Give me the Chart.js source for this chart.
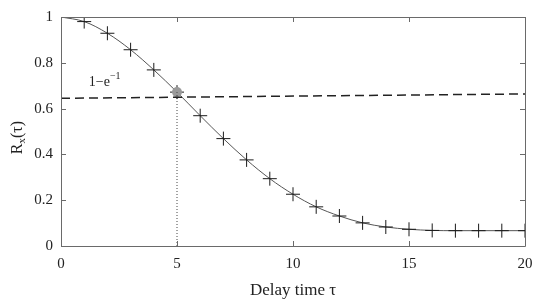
<!DOCTYPE html>
<html>
<head>
<meta charset="utf-8">
<script src="https://cdn.jsdelivr.net/npm/chart.js@4.4.1/dist/chart.umd.min.js"></script>
<style>
  html, body { margin: 0; padding: 0; background: #fff; }
  #wrap { width: 550px; height: 301px; position: relative; }
</style>
</head>
<body>
<div id="wrap"><canvas id="chart"></canvas></div>
<script>
// delay time tau and autocorrelation values
const tau = [0, 1, 2, 3, 4, 5, 6, 7, 8, 9, 10, 11, 12, 13, 14, 15, 16, 17, 18, 19, 20];
const rx = [1.0, 0.98, 0.929, 0.857, 0.769, 0.672, 0.569, 0.469, 0.376, 0.294, 0.226,
            0.171, 0.131, 0.101, 0.083, 0.073, 0.068, 0.067, 0.067, 0.067, 0.067];
const thresholdX = [0, 20];
const thresholdY = [0.645, 0.664];
const markX = [5];
const markY = [0.672];
const xTicks = [0, 5, 10, 15, 20];
const yTicks = [0, 0.2, 0.4, 0.6, 0.8, 1];

const SERIF = '"Liberation Serif", "DejaVu Serif", serif';
const AXIS = '#6a6a6a';

const frame = {
    id: 'frame',
    afterDraw(chart) {
        const { ctx, chartArea: a, scales: { x, y } } = chart;
        ctx.save();
        ctx.strokeStyle = AXIS;
        ctx.lineWidth = 1;
        ctx.beginPath();
        ctx.rect(a.left + 0.5, a.top + 0.5, a.right - a.left, a.bottom - a.top);
        // inward ticks on all four sides
        xTicks.forEach(v => {
            const px = Math.round(x.getPixelForValue(v)) + 0.5;
            ctx.moveTo(px, a.bottom); ctx.lineTo(px, a.bottom - 5);
            ctx.moveTo(px, a.top); ctx.lineTo(px, a.top + 5);
        });
        yTicks.forEach(v => {
            const py = Math.round(y.getPixelForValue(v)) + 0.5;
            ctx.moveTo(a.left, py); ctx.lineTo(a.left + 5, py);
            ctx.moveTo(a.right, py); ctx.lineTo(a.right - 5, py);
        });
        ctx.stroke();

        // 1-e^-1 label
        ctx.fillStyle = '#222';
        ctx.font = '14px ' + SERIF;
        ctx.textBaseline = 'alphabetic';
        const lx = x.getPixelForValue(1.2), ly = y.getPixelForValue(0.7);
        ctx.fillText('1\u2212e', lx, ly);
        const w = ctx.measureText('1\u2212e').width;
        ctx.font = '10px ' + SERIF;
        ctx.fillText('\u22121', lx + w, ly - 7);

        // y axis title R_x(tau)
        ctx.translate(18, (a.top + a.bottom) / 2 + 6);
        ctx.rotate(-Math.PI / 2);
        ctx.textAlign = 'left';
        ctx.textBaseline = 'middle';
        const parts = [['R', 16, 0], ['x', 11, 4], ['(\u03c4)', 16, 0]];
        let total = 0;
        parts.forEach(p => { ctx.font = p[1] + 'px ' + SERIF; total += ctx.measureText(p[0]).width; });
        let cx = -total / 2;
        parts.forEach(p => {
            ctx.font = p[1] + 'px ' + SERIF;
            ctx.fillText(p[0], cx, p[2]);
            cx += ctx.measureText(p[0]).width;
        });
        ctx.restore();
    }
};

new Chart(document.getElementById('chart'), {
    type: 'scatter',
    data: {
        datasets: [
            {
                label: 'threshold',
                data: thresholdX.map((v, i) => ({ x: v, y: thresholdY[i] })),
                showLine: true,
                borderColor: '#222',
                borderWidth: 1.5,
                borderDash: [9, 5],
                pointRadius: 0
            },
            {
                label: 'drop',
                data: [{ x: markX[0], y: 0 }, { x: markX[0], y: markY[0] }],
                showLine: true,
                borderColor: '#444',
                borderWidth: 1,
                borderDash: [1, 2],
                pointRadius: 0
            },
            {
                label: 'mark',
                data: markX.map((v, i) => ({ x: v, y: markY[i] })),
                pointStyle: 'circle',
                pointRadius: 5,
                backgroundColor: '#9a9a9a',
                borderColor: '#9a9a9a',
                borderWidth: 0
            },
            {
                label: 'Rx',
                data: tau.map((v, i) => ({ x: v, y: rx[i] })),
                showLine: true,
                cubicInterpolationMode: 'monotone',
                borderColor: '#555',
                borderWidth: 1,
                pointStyle: 'cross',
                pointRadius: 7,
                pointBorderColor: '#1a1a1a',
                pointBorderWidth: 1,
                pointBackgroundColor: '#1a1a1a'
            }
        ]
    },
    options: {
        responsive: true,
        maintainAspectRatio: false,
        animation: false,
        layout: { padding: { left: 0, right: 25, top: 12, bottom: 0 } },
        plugins: {
            legend: { display: false },
            tooltip: { enabled: false }
        },
        scales: {
            x: {
                type: 'linear',
                min: 0,
                max: 20,
                afterFit: s => { s.height = 55; },
                afterBuildTicks: s => { s.ticks = xTicks.map(v => ({ value: v })); },
                grid: { display: false, drawTicks: false },
                border: { display: false },
                ticks: { color: '#222', font: { family: SERIF, size: 15 }, padding: 9 },
                title: {
                    display: true,
                    text: 'Delay time \u03c4',
                    color: '#222',
                    font: { family: SERIF, size: 17 },
                    padding: { top: 0, bottom: 0 }
                }
            },
            y: {
                min: 0,
                max: 1,
                afterFit: s => { s.width = 61; },
                afterBuildTicks: s => { s.ticks = yTicks.map(v => ({ value: v })); },
                grid: { display: false, drawTicks: false },
                border: { display: false },
                ticks: {
                    color: '#222',
                    font: { family: SERIF, size: 15 },
                    padding: 8,
                    callback: v => String(Math.round(v * 10) / 10)
                }
            }
        }
    },
    plugins: [frame]
});
</script>
</body>
</html>
